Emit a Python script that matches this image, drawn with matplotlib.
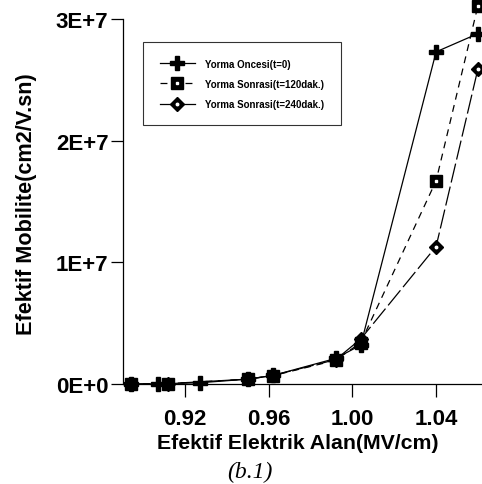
import matplotlib
matplotlib.use("Agg")
import matplotlib.pyplot as plt
from matplotlib.lines import Line2D

plt.rcParams['font.family'] = ['Liberation Sans', 'DejaVu Sans']
plt.rcParams['lines.scale_dashes'] = False

# Data
x_t0 = [0.894, 0.907, 0.927, 0.950, 0.962, 0.992, 1.004, 1.040, 1.060]
y_t0 = [0.0, 0.02e6, 0.1e6, 0.4e6, 0.7e6, 2.1e6, 3.2e6, 2.73e7, 2.88e7]

x_t120 = [0.894, 0.912, 0.950, 0.962, 0.992, 1.004, 1.040, 1.060]
y_t120 = [0.0, 0.03e6, 0.4e6, 0.68e6, 1.95e6, 3.4e6, 1.67e7, 3.11e7]

x_t240 = [0.894, 0.912, 0.950, 0.962, 0.992, 1.004, 1.040, 1.060]
y_t240 = [0.0, 0.03e6, 0.4e6, 0.7e6, 2.0e6, 3.7e6, 1.13e7, 2.59e7]

labels = ["Yorma Oncesi(t=0)", "Yorma Sonrasi(t=120dak.)", "Yorma Sonrasi(t=240dak.)"]
xticks = [0.92, 0.96, 1.00, 1.04]
yticks = [0, 1e7, 2e7, 3e7]
ytick_labels = ["0E+0", "1E+7", "2E+7", "3E+7"]

W, H = 482, 485
fig = plt.figure(figsize=(W / 100, H / 100), dpi=100)
ax = fig.add_axes([123 / W, (H - 385) / H, (W - 123) / W, 365 / H])

lw = 0.9
ax.plot(x_t0, y_t0, color='black', lw=lw, marker='P', ms=10, mfc='black',
        mec='black', clip_on=False, zorder=3)
ax.plot(x_t240, y_t240, color='black', lw=lw, dashes=(14, 3), marker='D', ms=7.5,
        mfc='black', mec='black', clip_on=False, zorder=4)
ax.plot(x_t240, y_t240, ls='none', marker='o', ms=1.8, mfc='white', mec='white',
        clip_on=False, zorder=4.5)
ax.plot(x_t120, y_t120, color='black', lw=lw, dashes=(5, 4), marker='s', ms=8,
        mfc='black', mec='black', clip_on=False, zorder=5)
ax.plot(x_t120[-2:], y_t120[-2:], ls='none', marker='s', ms=1.8, mfc='white', mec='white',
        clip_on=False, zorder=5.5)

ax.set_xlim(0.8904, 0.92 + (W - 185) / 2092.5)
ax.set_ylim(0, 3e7)
ax.set_xticks(xticks)
ax.set_xticklabels(["%.2f" % v for v in xticks])
ax.set_yticks(yticks)
ax.set_yticklabels(ytick_labels)

for s in ['top', 'right']:
    ax.spines[s].set_visible(False)
for s in ['left', 'bottom']:
    ax.spines[s].set_linewidth(0.9)

ax.tick_params(axis='x', direction='out', length=9.5, width=0.9, labelsize=16, pad=8)
ax.tick_params(axis='y', direction='out', length=8.5, width=0.9, labelsize=16, pad=2)
for lab in ax.get_xticklabels() + ax.get_yticklabels():
    lab.set_fontweight('bold')

ax.set_xlabel("Efektif Elektrik Alan(MV/cm)", fontsize=15.3, fontweight='bold')
ax.set_ylabel("Efektif Mobilite(cm2/V.sn)", fontsize=15.6, fontweight='bold')
ax.xaxis.set_label_coords((297.5 - 123) / 359, (385 - 434) / 365)
ax.yaxis.set_label_coords((37 - 123) / 359, (385 - 204.5) / 365)

fig.text(250 / W, 1 - 472 / H, "(b.1)", fontsize=17, fontstyle='italic',
         family=['Liberation Serif', 'DejaVu Serif'], ha='center', va='center')

# Legend handles
h0 = Line2D([], [], color='black', lw=lw, marker='P', ms=10, mfc='black', mec='black')
h1 = Line2D([], [], color='black', lw=lw, dashes=(5, 4), marker='s', ms=8.5, mfc='black', mec='black')
h1w = Line2D([], [], ls='none', marker='s', ms=2.0, mfc='white', mec='white')
h2 = Line2D([], [], color='black', lw=lw, marker='D', ms=7.5, mfc='black', mec='black')
h2w = Line2D([], [], ls='none', marker='o', ms=1.8, mfc='white', mec='white')
leg = ax.legend([h0, (h1, h1w), (h2, h2w)], labels, loc='upper left',
                bbox_to_anchor=(20 / 359, (385 - 43) / 365),
                borderaxespad=0, fancybox=False, frameon=True, handlelength=3.6,
                handletextpad=1.1, borderpad=1.7, labelspacing=1.05,
                prop={'size': 7, 'weight': 'bold'})
leg.get_frame().set_edgecolor('black')
leg.get_frame().set_linewidth(0.8)

fig.savefig("out.png", dpi=100)
